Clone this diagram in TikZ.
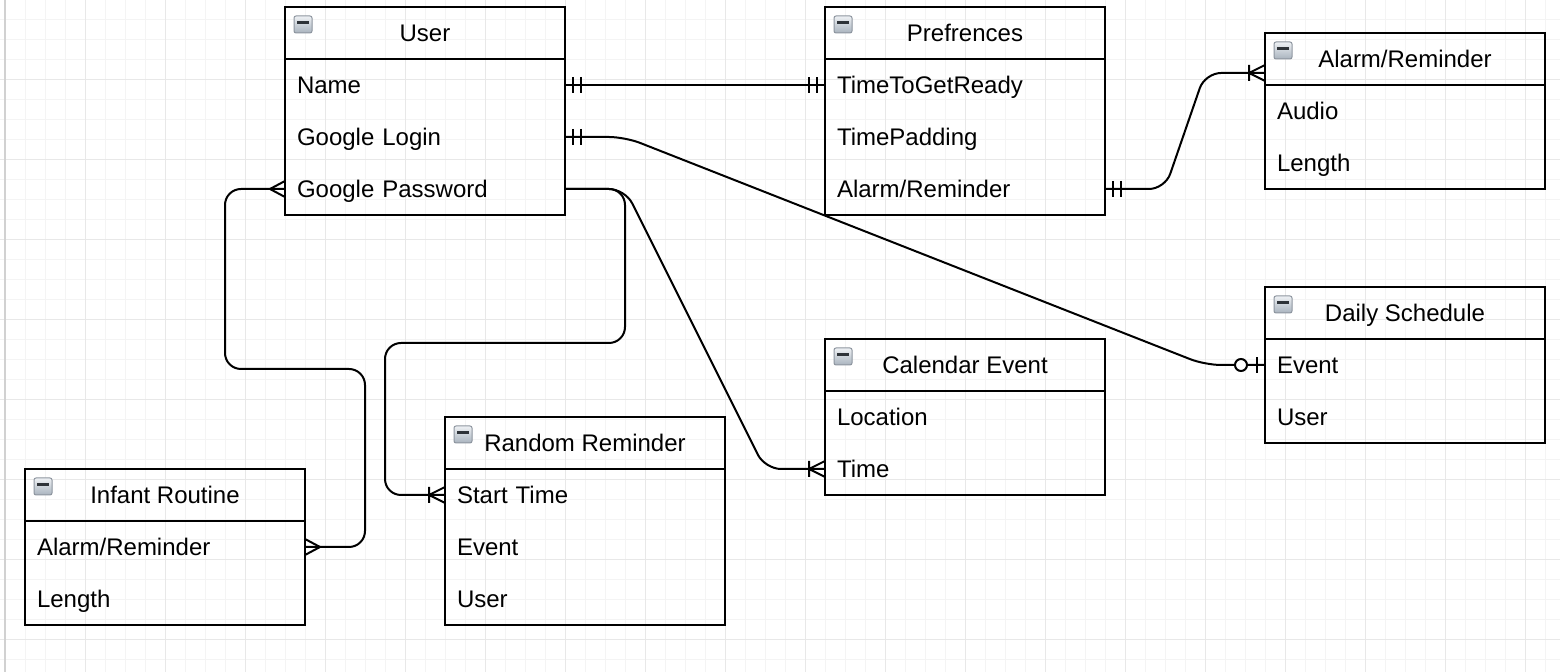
\documentclass[tikz,border=0pt]{standalone}
\usepackage{fontspec}
\setmainfont{Liberation Sans}
\usetikzlibrary{calc}
\definecolor{gridminor}{HTML}{F4F4F4}
\definecolor{gridmajor}{HTML}{E8E8E8}
\definecolor{icontop}{HTML}{EEF1F4}
\definecolor{iconbot}{HTML}{A9B3BE}
\definecolor{iconborder}{HTML}{8D959F}
\definecolor{iconbar}{HTML}{2E3338}
\begin{document}
\begin{tikzpicture}[x=0.5pt,y=-0.5pt,
  minorline/.style={draw=gridminor, line width=0.5pt},
  majorline/.style={draw=gridmajor, line width=0.5pt},
  erfont/.style={font=\fontsize{12}{14}\selectfont, text height=10.5pt, text depth=2pt},
  hdrbox/.style={erfont, draw, line width=1.25pt, anchor=north west, outer sep=0pt, inner sep=0pt, minimum width=140pt, minimum height=26pt, align=center},
  rowbox/.style={erfont, anchor=north west, outer sep=0pt, inner xsep=6pt, inner ysep=0pt, text width=128pt, align=left, minimum height=26pt},
  tblframe/.style={draw, line width=1.25pt},
  conn/.style={draw, line width=1pt, rounded corners=8pt},
  mk/.style={draw, line width=1pt, sharp corners},
  ermone/.pic={\draw[mk] (8,-8)--(8,8) (16,-8)--(16,8);},
  ermany/.pic={\draw[mk] (0,-8)--(15,0)--(0,8);},
  eronemany/.pic={\draw[mk] (0,-8)--(16,0)--(0,8) (16,-8)--(16,8);},
  erzeroone/.pic={\draw[mk] (8,-8)--(8,8); \draw[mk,fill=white] (24,0) circle[radius=3pt];},
  minusicon/.pic={\shade[top color=icontop, bottom color=iconbot, draw=iconborder, line width=0.5pt, rounded corners=1pt] (9,9) rectangle (27,26);
                  \fill[iconbar] (12,14.5) rectangle (24,17.5);}
]
\useasboundingbox (0,0) rectangle (1560,672);
\fill[white] (0,0) rectangle (1560,672);
% grid
\foreach \gx in {5,25,...,1560} {\draw[minorline] (\gx,0) -- (\gx,672);}
\foreach \gy in {0,20,...,672} {\draw[minorline] (0,\gy) -- (1560,\gy);}
\foreach \gx in {5,85,...,1560} {\draw[majorline] (\gx,0) -- (\gx,672);}
\foreach \gy in {0,80,...,672} {\draw[majorline] (0,\gy) -- (1560,\gy);}
\draw[draw=black!18, line width=1pt] (5,0) -- (5,672);

% User
\node[hdrbox] (user) at (285,7) {User};
\node[rowbox] (user-1) at (user.south west) {Name};
\node[rowbox] (user-2) at (user-1.south west) {Google Login};
\node[rowbox] (user-3) at (user-2.south west) {Google Password};
\draw[tblframe] (user.north west) rectangle (user-3.south east);
\pic at (user.north west) {minusicon};

% Prefrences
\node[hdrbox] (pref) at (825,7) {Prefrences};
\node[rowbox] (pref-1) at (pref.south west) {TimeToGetReady};
\node[rowbox] (pref-2) at (pref-1.south west) {TimePadding};
\node[rowbox] (pref-3) at (pref-2.south west) {Alarm/Reminder};
\draw[tblframe] (pref.north west) rectangle (pref-3.south east);
\pic at (pref.north west) {minusicon};

% Alarm/Reminder
\node[hdrbox] (alarm) at (1265,33) {Alarm/Reminder};
\node[rowbox] (alarm-1) at (alarm.south west) {Audio};
\node[rowbox] (alarm-2) at (alarm-1.south west) {Length};
\draw[tblframe] (alarm.north west) rectangle (alarm-2.south east);
\pic at (alarm.north west) {minusicon};

% Daily Schedule
\node[hdrbox] (ds) at (1265,287) {Daily Schedule};
\node[rowbox] (ds-1) at (ds.south west) {Event};
\node[rowbox] (ds-2) at (ds-1.south west) {User};
\draw[tblframe] (ds.north west) rectangle (ds-2.south east);
\pic at (ds.north west) {minusicon};

% Calendar Event
\node[hdrbox] (ce) at (825,339) {Calendar Event};
\node[rowbox] (ce-1) at (ce.south west) {Location};
\node[rowbox] (ce-2) at (ce-1.south west) {Time};
\draw[tblframe] (ce.north west) rectangle (ce-2.south east);
\pic at (ce.north west) {minusicon};

% Random Reminder
\node[hdrbox] (rr) at (445,417) {Random Reminder};
\node[rowbox] (rr-1) at (rr.south west) {Start Time};
\node[rowbox] (rr-2) at (rr-1.south west) {Event};
\node[rowbox] (rr-3) at (rr-2.south west) {User};
\draw[tblframe] (rr.north west) rectangle (rr-3.south east);
\pic at (rr.north west) {minusicon};

% Infant Routine
\node[hdrbox] (ir) at (25,469) {Infant Routine};
\node[rowbox] (ir-1) at (ir.south west) {Alarm/Reminder};
\node[rowbox] (ir-2) at (ir-1.south west) {Length};
\draw[tblframe] (ir.north west) rectangle (ir-2.south east);
\pic at (ir.north west) {minusicon};

\coordinate (alarm-in) at ($(alarm.north west)+(0,40)$);

% connectors
\draw[conn] (user-1.east) -- (pref-1.west);
\draw[conn] (user-2.east) -- ++(60,0) -- ($(ds-1.west)+(-60,0)$) -- (ds-1.west);
\draw[conn] (pref-3.east) -- ++(60,0) -- ($(alarm-in)+(-60,0)$) -- (alarm-in);
\draw[conn] (user-3.east) -- ++(60,0) -- ($(ce-2.west)+(-60,0)$) -- (ce-2.west);
\draw[conn] (user-3.east) -- ++(60,0) -- ++(0,154) -| ($(rr-1.west)+(-60,0)$) -- (rr-1.west);
\draw[conn] (ir-1.east) -- ++(60,0) -- ++(0,-178) -| ($(user-3.west)+(-60,0)$) -- (user-3.west);

% markers
\pic at (user-1.east) {ermone};
\pic[rotate=180] at (pref-1.west) {ermone};
\pic at (user-2.east) {ermone};
\pic[rotate=180] at (ds-1.west) {erzeroone};
\pic at (pref-3.east) {ermone};
\pic[rotate=180] at (alarm-in) {eronemany};
\pic[rotate=180] at (ce-2.west) {eronemany};
\pic[rotate=180] at (rr-1.west) {eronemany};
\pic at (ir-1.east) {ermany};
\pic[rotate=180] at (user-3.west) {ermany};
\end{tikzpicture}
\end{document}
